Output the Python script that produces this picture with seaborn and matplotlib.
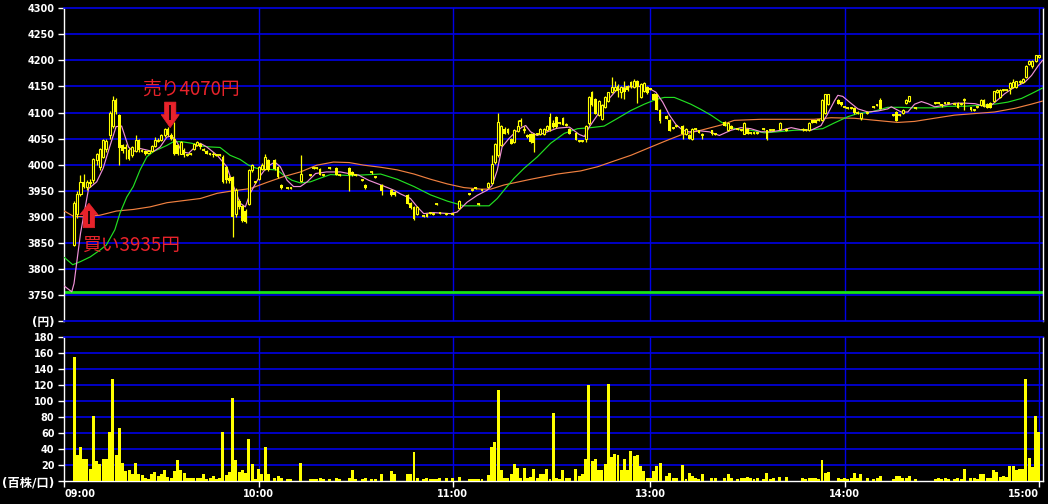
import numpy as np
import pandas as pd
import matplotlib
matplotlib.use("Agg")
import matplotlib.pyplot as plt
from matplotlib.patches import Polygon
import seaborn as sns

# minute index counted from 09:00 (lunch break removed: 11:30 = 150, 12:30 = 151, 15:00 = 301)
bar_minute = [
    3, 4, 5, 6, 7, 8, 9, 10, 11, 12,
    13, 14, 15, 16, 17, 18, 19, 20, 21, 22,
    23, 24, 25, 26, 27, 28, 29, 30, 31, 32,
    33, 34, 35, 36, 37, 38, 39, 40, 41, 42,
    43, 44, 45, 46, 47, 48, 49, 50, 51, 52,
    53, 54, 55, 56, 57, 58, 59, 60, 61, 62,
    63, 65, 66, 67, 69, 70, 73, 76, 77, 78,
    79, 80, 82, 84, 85, 88, 89, 90, 92, 93,
    95, 96, 98, 101, 102, 106, 107, 108, 109, 111,
    112, 113, 114, 115, 116, 118, 120, 122, 125, 126,
    127, 128, 129, 131, 132, 133, 134, 135, 136, 137,
    138, 139, 140, 141, 142, 143, 144, 145, 146, 147,
    148, 149, 150, 151, 152, 153, 154, 155, 156, 158,
    159, 160, 161, 162, 163, 164, 165, 166, 167, 168,
    169, 170, 171, 172, 173, 174, 175, 176, 177, 178,
    179, 180, 181, 182, 183, 184, 186, 187, 188, 189,
    191, 192, 193, 194, 195, 196, 197, 200, 201, 204,
    205, 206, 208, 209, 210, 211, 212, 213, 214, 216,
    217, 218, 219, 221, 223, 228, 229, 230, 231, 232,
    233, 234, 235, 236, 239, 240, 241, 242, 243, 244,
    245, 246, 248, 250, 251, 252, 256, 257, 258, 259,
    260, 261, 263, 269, 270, 271, 272, 273, 275, 276,
    277, 278, 280, 281, 282, 283, 284, 285, 286, 287,
    288, 289, 290, 291, 292, 293, 294, 295, 296, 297,
    298, 299, 300, 301,
]
bar_open = [
    3845, 3905, 3944, 3967, 3958, 3966, 3970, 4008, 3995, 4015,
    4030, 4056, 4075, 4125, 4095, 4037, 4033, 4029, 4018, 4027,
    4047, 4027, 4026, 4023, 4027, 4035, 4045, 4047, 4056, 4069,
    4056, 4050, 4037, 4021, 4029, 4018, 4020, 4030, 4038, 4040,
    4029, 4027, 4020, 4020, 4018, 4018, 4015, 3995, 3975, 3976,
    3906, 3931, 3920, 3912, 3925, 3989, 3967, 3973, 3992, 3992,
    4008, 4008, 3995, 3960, 3956, 3956, 3969, 3981, 3994, 3994,
    3991, 3981, 3994, 3994, 3981, 3994, 3985, 3980, 3970, 3960,
    3985, 3976, 3960, 3951, 3948, 3941, 3926, 3919, 3906, 3901,
    3906, 3907, 3906, 3925, 3909, 3906, 3906, 3916, 3944, 3951,
    3957, 3925, 3951, 3957, 3965, 4005, 4018, 4037, 4069, 4069,
    4050, 4043, 4065, 4084, 4067, 4056, 4059, 4059, 4058, 4058,
    4059, 4066, 4091, 4079, 4091, 4080, 4090, 4077, 4069, 4061,
    4045, 4046, 4050, 4079, 4139, 4126, 4095, 4088, 4110, 4123,
    4139, 4143, 4150, 4139, 4148, 4150, 4158, 4149, 4160, 4130,
    4142, 4149, 4146, 4136, 4135, 4105, 4094, 4085, 4070, 4075,
    4075, 4058, 4056, 4050, 4069, 4066, 4056, 4066, 4058, 4082,
    4066, 4075, 4069, 4066, 4059, 4069, 4061, 4061, 4061, 4069,
    4066, 4066, 4066, 4068, 4069, 4069, 4066, 4066, 4085, 4085,
    4085, 4085, 4099, 4117, 4125, 4120, 4110, 4109, 4109, 4109,
    4100, 4090, 4100, 4110, 4115, 4125, 4095, 4101, 4095, 4099,
    4118, 4123, 4109, 4119, 4119, 4116, 4119, 4119, 4117, 4119,
    4117, 4125, 4110, 4105, 4110, 4114, 4125, 4117, 4119, 4123,
    4139, 4130, 4144, 4144, 4147, 4149, 4149, 4158, 4158, 4168,
    4194, 4190, 4199, 4207,
]
bar_high = [
    3930, 3950, 3980, 3982, 3970, 3972, 4012, 4022, 4032, 4050,
    4050, 4103, 4131, 4128, 4098, 4040, 4040, 4032, 4036, 4056,
    4050, 4030, 4028, 4028, 4038, 4053, 4052, 4058, 4070, 4072,
    4060, 4082, 4040, 4045, 4032, 4020, 4022, 4042, 4045, 4042,
    4031, 4029, 4022, 4025, 4020, 4020, 4018, 3998, 3980, 3978,
    3955, 3935, 3922, 3915, 3992, 4002, 3969, 3998, 4003, 4020,
    4011, 4010, 3998, 3962, 3958, 3958, 4019, 3983, 3996, 3996,
    3993, 3983, 3996, 3996, 3983, 3996, 3987, 3982, 3972, 3962,
    3987, 3978, 3962, 3953, 3950, 3943, 3928, 3920, 3920, 3903,
    3907, 3909, 3908, 3927, 3910, 3908, 3908, 3933, 3946, 3953,
    3958, 3927, 3953, 3966, 4018, 4042, 4100, 4077, 4072, 4070,
    4052, 4068, 4086, 4090, 4075, 4058, 4061, 4060, 4060, 4070,
    4070, 4076, 4100, 4085, 4093, 4082, 4092, 4079, 4070, 4063,
    4047, 4048, 4076, 4131, 4141, 4128, 4125, 4116, 4132, 4140,
    4169, 4160, 4155, 4151, 4160, 4153, 4160, 4165, 4162, 4157,
    4158, 4150, 4148, 4138, 4136, 4107, 4096, 4087, 4072, 4077,
    4077, 4070, 4058, 4070, 4071, 4067, 4061, 4067, 4060, 4083,
    4081, 4076, 4071, 4068, 4081, 4070, 4063, 4063, 4063, 4071,
    4067, 4068, 4068, 4081, 4070, 4070, 4068, 4081, 4086, 4086,
    4087, 4126, 4136, 4136, 4126, 4121, 4112, 4111, 4111, 4110,
    4102, 4100, 4102, 4112, 4117, 4127, 4097, 4102, 4097, 4106,
    4126, 4132, 4111, 4121, 4121, 4117, 4121, 4121, 4119, 4120,
    4119, 4127, 4111, 4107, 4112, 4126, 4126, 4118, 4120, 4142,
    4145, 4145, 4146, 4146, 4158, 4165, 4161, 4162, 4166, 4191,
    4200, 4200, 4211, 4211,
]
bar_low = [
    3843, 3898, 3940, 3955, 3952, 3958, 3965, 4000, 3990, 4012,
    4025, 4050, 4070, 4098, 4000, 4022, 4011, 4008, 4015, 4025,
    4025, 4025, 4018, 4020, 4025, 4033, 4043, 4045, 4054, 4055,
    4048, 4018, 4018, 4020, 4015, 4016, 4018, 4028, 4035, 4030,
    4027, 4020, 4018, 4015, 4016, 4016, 3965, 3965, 3965, 3861,
    3900, 3915, 3890, 3888, 3922, 3985, 3965, 3970, 3990, 3990,
    3987, 3990, 3974, 3954, 3954, 3954, 3967, 3979, 3992, 3992,
    3980, 3979, 3992, 3980, 3979, 3950, 3978, 3978, 3968, 3954,
    3983, 3974, 3941, 3940, 3940, 3924, 3915, 3893, 3904, 3899,
    3899, 3905, 3904, 3923, 3905, 3904, 3904, 3914, 3942, 3949,
    3953, 3923, 3949, 3955, 3962, 4002, 4015, 4035, 4058, 4058,
    4039, 4041, 4062, 4075, 4060, 4052, 4042, 4024, 4056, 4056,
    4057, 4064, 4065, 4070, 4070, 4078, 4076, 4075, 4058, 4047,
    4043, 4044, 4043, 4077, 4112, 4097, 4093, 4086, 4108, 4121,
    4137, 4141, 4130, 4127, 4126, 4142, 4147, 4147, 4118, 4128,
    4140, 4136, 4144, 4124, 4104, 4080, 4087, 4064, 4068, 4073,
    4050, 4056, 4049, 4048, 4067, 4060, 4049, 4057, 4056, 4074,
    4064, 4068, 4067, 4064, 4058, 4058, 4059, 4059, 4059, 4067,
    4048, 4064, 4064, 4066, 4064, 4065, 4064, 4064, 4079, 4079,
    4083, 4083, 4097, 4115, 4116, 4113, 4108, 4107, 4107, 4098,
    4098, 4085, 4098, 4108, 4113, 4106, 4093, 4083, 4093, 4098,
    4117, 4121, 4107, 4117, 4117, 4111, 4117, 4117, 4115, 4108,
    4115, 4104, 4103, 4103, 4108, 4112, 4110, 4108, 4108, 4121,
    4137, 4128, 4142, 4142, 4136, 4147, 4147, 4155, 4156, 4166,
    4192, 4186, 4197, 4205,
]
bar_close = [
    3926, 3944, 3967, 3958, 3966, 3962, 4010, 4020, 4030, 4047,
    4045, 4100, 4125, 4101, 4031, 4027, 4030, 4011, 4034, 4047,
    4028, 4027, 4021, 4027, 4035, 4048, 4048, 4056, 4069, 4056,
    4050, 4020, 4020, 4043, 4018, 4018, 4020, 4040, 4043, 4034,
    4029, 4021, 4020, 4018, 4018, 4018, 3967, 3970, 3968, 3900,
    3951, 3919, 3892, 3890, 3989, 3999, 3967, 3995, 4000, 4015,
    3990, 3992, 3976, 3955, 3956, 3956, 3982, 3981, 3994, 3994,
    3981, 3981, 3994, 3981, 3981, 3981, 3980, 3980, 3970, 3955,
    3985, 3976, 3950, 3941, 3942, 3925, 3916, 3895, 3919, 3901,
    3900, 3907, 3906, 3925, 3906, 3906, 3906, 3931, 3944, 3951,
    3954, 3925, 3951, 3965, 4001, 4040, 4082, 4075, 4059, 4060,
    4040, 4066, 4075, 4084, 4067, 4053, 4043, 4042, 4058, 4069,
    4069, 4075, 4067, 4072, 4072, 4080, 4077, 4077, 4059, 4048,
    4045, 4046, 4075, 4130, 4114, 4098, 4123, 4114, 4130, 4139,
    4149, 4149, 4142, 4149, 4139, 4144, 4149, 4160, 4149, 4155,
    4157, 4137, 4146, 4125, 4105, 4083, 4088, 4065, 4070, 4075,
    4058, 4069, 4050, 4069, 4069, 4061, 4056, 4058, 4058, 4075,
    4080, 4069, 4069, 4066, 4080, 4059, 4061, 4061, 4061, 4069,
    4049, 4066, 4066, 4080, 4065, 4066, 4066, 4080, 4080, 4080,
    4085, 4125, 4135, 4135, 4117, 4114, 4110, 4109, 4109, 4099,
    4100, 4099, 4100, 4110, 4115, 4107, 4095, 4084, 4095, 4105,
    4125, 4131, 4109, 4119, 4119, 4112, 4119, 4119, 4117, 4109,
    4117, 4125, 4104, 4105, 4110, 4125, 4111, 4109, 4109, 4141,
    4144, 4144, 4144, 4144, 4157, 4159, 4160, 4160, 4165, 4190,
    4199, 4199, 4210, 4210,
]

# volume (hundreds of shares) for every minute 0..301
volume = [
    0, 0, 0, 155, 33, 42, 28, 28, 15, 81,
    25, 21, 28, 28, 61, 128, 33, 66, 23, 13,
    14, 9, 23, 9, 7, 4, 3, 9, 11, 6,
    9, 14, 5, 4, 13, 26, 14, 10, 4, 4,
    4, 4, 4, 9, 3, 4, 6, 3, 4, 61,
    7, 11, 104, 26, 11, 14, 10, 53, 21, 3,
    15, 9, 43, 9, 0, 4, 6, 4, 0, 3,
    3, 0, 0, 23, 0, 0, 3, 3, 3, 4,
    3, 0, 3, 0, 4, 3, 0, 0, 4, 14,
    3, 0, 3, 4, 0, 3, 3, 0, 9, 0,
    0, 13, 9, 0, 0, 0, 9, 9, 36, 4,
    0, 3, 4, 3, 3, 3, 4, 0, 4, 0,
    4, 0, 5, 0, 0, 3, 3, 3, 3, 3,
    0, 7, 43, 49, 114, 14, 4, 4, 9, 21,
    16, 4, 16, 4, 5, 15, 4, 9, 9, 15,
    3, 85, 4, 3, 14, 4, 4, 0, 15, 6,
    9, 28, 120, 25, 28, 14, 14, 21, 122, 30,
    34, 33, 14, 28, 14, 38, 31, 33, 19, 13,
    4, 4, 13, 19, 23, 0, 6, 10, 4, 4,
    0, 20, 3, 10, 6, 4, 3, 9, 0, 0,
    4, 4, 0, 0, 4, 9, 4, 0, 3, 4,
    4, 5, 4, 3, 4, 0, 3, 10, 3, 4,
    0, 5, 0, 5, 0, 0, 0, 0, 4, 3,
    4, 4, 4, 3, 26, 10, 11, 0, 0, 4,
    3, 4, 3, 4, 10, 4, 9, 0, 4, 0,
    3, 4, 6, 0, 0, 0, 3, 6, 6, 4,
    4, 6, 0, 3, 0, 0, 0, 0, 0, 3,
    4, 3, 4, 3, 0, 3, 4, 3, 15, 0,
    4, 4, 3, 9, 9, 4, 4, 14, 11, 5,
    6, 5, 19, 19, 14, 15, 15, 128, 29, 18,
    81, 61,
]

# moving averages (short / middle / long)
ma_short_x = [0, 2.3, 3, 5, 7.5, 10, 12, 14, 16, 17.7, 19.8, 21.3, 23.4, 25.5, 27.5, 29.6, 31.7, 33.2,
              34.7, 36.3, 38.4, 40.4, 42, 44, 47.2, 50.2, 52.3, 54.3, 55.9, 57.4, 60, 62.6, 65, 66.7,
              68.8, 70.8, 72.9, 75, 77.6, 81, 85.3, 87.8, 90.9, 94, 98.2, 101.8, 103.8, 106.9, 109,
              111, 114, 119.3, 121.3, 124.4, 127.5, 130.6, 132.1, 133.7, 135.2, 137.3, 139.4, 141.4,
              142.5, 144, 146, 149.2, 152.2, 156, 159, 160.6, 162.1, 164.2, 167.3, 170.4, 173.4,
              177.6, 180.7, 182.7, 184.8, 186.9, 188.9, 191, 193, 196.1, 199.2, 202.3, 205.9, 209,
              212, 215.2, 218.3, 221.4, 224.5, 227.5, 230.6, 233.7, 235.8, 237.9, 238.9, 240.4,
              242.5, 245.1, 248.2, 251.3, 254.3, 255.4, 258.5, 260.5, 262.6, 264.7, 266.7, 268.8,
              271.9, 275, 278.1, 281.2, 284.3, 286.3, 288.4, 290.4, 293.5, 296.6, 298.7, 300.8, 302.1]
ma_short_y = [3767, 3756, 3772, 3868, 3954, 3967, 3993, 4034, 4073, 4074, 4034, 4025, 4031, 4028, 4025,
              4034, 4053, 4055, 4044, 4025, 4022, 4034, 4041, 4034, 4018, 3996, 3958, 3926, 3919, 3945,
              3974, 3996, 4005, 3996, 3970, 3958, 3958, 3967, 3983, 3986, 3986, 3983, 3980, 3970, 3960,
              3951, 3944, 3935, 3919, 3906, 3908, 3906, 3909, 3928, 3941, 3951, 3960, 3989, 4034, 4050,
              4063, 4072, 4075, 4063, 4056, 4063, 4070, 4072, 4058, 4054, 4072, 4091, 4120, 4142, 4149,
              4150, 4146, 4139, 4120, 4095, 4077, 4066, 4063, 4065, 4063, 4056, 4066, 4071, 4069, 4063,
              4063, 4066, 4071, 4067, 4066, 4075, 4098, 4123, 4133, 4131, 4120, 4107, 4101, 4103, 4107,
              4111, 4101, 4101, 4116, 4121, 4117, 4111, 4114, 4118, 4118, 4117, 4112, 4114, 4125, 4136,
              4149, 4158, 4171, 4190, 4200]
ma_mid_x = [0, 2.6, 5, 8, 11, 13, 15.6, 17.2, 19.3, 21.3, 23.4, 25.5, 27.5, 29.6, 31.7, 33.7, 36.3,
            39.4, 42, 45, 48.1, 51.2, 54.3, 56.9, 59.4, 62.6, 65.7, 67.7, 70.3, 72.9, 76, 79, 82.2,
            88.4, 97.7, 102.8, 108, 113.1, 118.3, 123.4, 127.6, 131.2, 133.7, 135.8, 138.9, 142,
            146.1, 150.2, 154.4, 158.5, 162.6, 166.7, 170.9, 175, 179.1, 182.7, 185.3, 188.4, 190.4,
            193.5, 196.6, 199.7, 202.8, 205.9, 209, 212, 216.2, 220.3, 225.5, 230.6, 234.2, 237.8,
            242, 245, 249.2, 254.3, 258.4, 262.6, 268.7, 272.9, 278, 283.2, 287.3, 291.4, 295.6,
            298.6, 302.1]
ma_mid_y = [3822, 3808, 3814, 3823, 3836, 3846, 3875, 3907, 3938, 3958, 3990, 4015, 4025, 4031, 4037,
            4044, 4044, 4041, 4036, 4034, 4033, 4018, 4010, 3999, 3993, 3991, 3990, 3980, 3970, 3965,
            3967, 3974, 3981, 3979, 3982, 3972, 3958, 3942, 3930, 3921, 3921, 3921, 3935, 3951, 3974,
            3993, 4015, 4041, 4060, 4069, 4071, 4074, 4089, 4104, 4116, 4125, 4129, 4129, 4124, 4116,
            4106, 4095, 4082, 4071, 4067, 4066, 4061, 4063, 4066, 4067, 4069, 4080, 4092, 4098, 4101,
            4110, 4110, 4109, 4109, 4112, 4112, 4114, 4116, 4120, 4127, 4136, 4147]
ma_long_x = [0, 2.8, 5.9, 11, 16.1, 21.3, 26.5, 31.7, 36.8, 42, 47.2, 52.3, 57.4, 62.6, 67.7, 72.9,
             78, 83.1, 88, 92.5, 97.7, 102.8, 108, 113.1, 118.3, 123.4, 128.6, 131.7, 135.8, 144.1,
             152.3, 159.5, 164.7, 169.8, 175, 181.2, 186.3, 190.4, 196.6, 202.8, 206.9, 215.1, 223.4,
             231.6, 236.8, 244, 252.3, 257.4, 262.6, 268.7, 274.9, 281.1, 287.3, 293.5, 298.6, 302.1]
ma_long_y = [3911, 3901, 3900, 3903, 3911, 3914, 3919, 3927, 3931, 3935, 3945, 3950, 3954, 3966, 3977,
             3986, 3999, 4005, 4004, 3999, 3995, 3990, 3982, 3972, 3963, 3956, 3953, 3953, 3961, 3972,
             3982, 3988, 3996, 4007, 4018, 4034, 4047, 4057, 4066, 4076, 4085, 4087, 4087, 4087, 4090,
             4089, 4084, 4081, 4083, 4089, 4095, 4098, 4101, 4108, 4116, 4122]

base_line = 3756
time_ticks = [0, 60, 120, 181, 241, 301]
time_labels = ["09:00", "10:00", "11:00", "13:00", "14:00", "15:00"]
price_ticks = list(range(3700, 4301, 50))
vol_ticks = list(range(0, 181, 20))
buy_text, sell_text = "買い3935円", "売り4070円"

BLUE = "#0000e6"
YEL = "#ffff00"
RED = "#e8232b"

sns.set_style("dark", {"axes.facecolor": "black", "figure.facecolor": "black"})
plt.rcParams["font.family"] = ["DejaVu Sans", "Noto Sans CJK JP"]

W, H = 1048, 504
fig = plt.figure(figsize=(W / 100, H / 100), dpi=100, facecolor="black")


def px_box(left, top, right, bottom):
    return [left / W, 1 - bottom / H, (right - left) / W, (bottom - top) / H]


ax = fig.add_axes(px_box(63.5, 8.3, 1042.5, 321))
axv = fig.add_axes(px_box(63.5, 337.3, 1042.5, 481))

for a in (ax, axv):
    a.set_facecolor("black")
    a.grid(False)
    for t in time_ticks[1:]:
        a.axvline(t, color=BLUE, lw=1.0, zorder=1)
    for side in ("left", "right"):
        a.spines[side].set_color("white")
        a.spines[side].set_linewidth(1.0)

# ---- price panel ----
for p in price_ticks[1:-1]:
    ax.axhline(p, color=BLUE, lw=1.2, zorder=1)
ax.axhline(base_line, color="#18e018", lw=2.0, zorder=2)
ax.spines["top"].set_color(BLUE)
ax.spines["top"].set_linewidth(1.2)
ax.spines["bottom"].set_color(BLUE)
ax.spines["bottom"].set_linewidth(1.2)

sns.lineplot(x=ma_long_x, y=ma_long_y, color="#f08040", lw=0.85, ax=ax, zorder=3)
sns.lineplot(x=ma_mid_x, y=ma_mid_y, color="#22e022", lw=0.85, ax=ax, zorder=3)
sns.lineplot(x=ma_short_x, y=ma_short_y, color="#f090d8", lw=0.85, ax=ax, zorder=3)

df = pd.DataFrame({"minute": bar_minute, "open": bar_open, "high": bar_high,
                   "low": bar_low, "close": bar_close})
up = df["close"] > df["open"]
down = df["close"] < df["open"]
flat = df["close"] == df["open"]
ax.vlines(df["minute"], df["low"], df["high"], color=YEL, lw=0.9, zorder=4)
ax.bar(df["minute"][up], (df["close"] - df["open"])[up], bottom=df["open"][up], width=0.62,
       facecolor="black", edgecolor=YEL, linewidth=0.8, zorder=5)
ax.bar(df["minute"][down], (df["open"] - df["close"])[down], bottom=df["close"][down], width=0.85,
       color=YEL, linewidth=0, zorder=5)
ax.hlines(df["close"][flat], df["minute"][flat] - 0.45, df["minute"][flat] + 0.45,
          color=YEL, lw=1.3, zorder=5)


# buy / sell arrows
def arrow(cx, tail, base, tip):
    pts = [(cx, tip), (cx + 2.8, base), (cx + 1.75, base), (cx + 1.75, tail),
           (cx - 1.75, tail), (cx - 1.75, base), (cx - 2.8, base)]
    ax.add_patch(Polygon(pts, closed=True, facecolor=RED, edgecolor=RED, lw=0.5, zorder=7))


arrow(7.6, 3879, 3904, 3926)
ax.plot([7.6, 7.6], [3886, 3912], color="black", lw=1.2, zorder=8, solid_capstyle="butt")
arrow(32.7, 4120, 4096, 4071)
ax.plot([32.7, 32.7], [4114, 4086], color="black", lw=1.2, zorder=8, solid_capstyle="butt")

ax.text(24.0, 4144, sell_text, color=RED, fontsize=13.5, family=["Noto Sans CJK JP"],
        ha="left", va="center", zorder=8)
ax.text(5.6, 3846, buy_text, color=RED, fontsize=13.5, family=["Noto Sans CJK JP"],
        ha="left", va="center", zorder=8)

ax.set_xlim(-0.25, 302.1)
ax.set_ylim(3700, 4300)
ax.set_xticks([])
ax.set_yticks(price_ticks)
ax.set_yticklabels(["(円)"] + [str(p) for p in price_ticks[1:]])
ax.tick_params(axis="y", colors="white", length=4.5, width=1, pad=2, labelsize=7.0, left=True)
for lbl in ax.get_yticklabels():
    lbl.set_fontweight("bold")
ax.get_yticklabels()[0].set_fontsize(8.5)
ax.set_xlabel("")
ax.set_ylabel("")

# ---- volume panel ----
for v in vol_ticks[1:-1]:
    axv.axhline(v, color=BLUE, lw=1.2, zorder=1)
axv.spines["top"].set_color(BLUE)
axv.spines["top"].set_linewidth(1.2)
axv.spines["bottom"].set_color("white")
axv.spines["bottom"].set_linewidth(1.0)

vol_df = pd.DataFrame({"minute": np.arange(len(volume)), "volume": volume})
sns.barplot(data=vol_df, x="minute", y="volume", native_scale=True, color=YEL, saturation=1,
            width=0.92, errorbar=None, linewidth=0, ax=axv, zorder=3)

axv.set_xlim(-0.25, 302.1)
axv.set_ylim(0, 180)
axv.set_yticks(vol_ticks)
axv.set_yticklabels(["(百株/口)"] + [str(v) for v in vol_ticks[1:]])
axv.set_xticks(time_ticks)
axv.set_xticklabels(time_labels)
axv.tick_params(axis="both", colors="white", length=4.5, width=1, labelsize=7.0,
                left=True, bottom=True)
axv.tick_params(axis="y", pad=2)
axv.tick_params(axis="x", pad=1.5)
for lbl in axv.get_yticklabels() + axv.get_xticklabels():
    lbl.set_fontweight("bold")
axv.get_yticklabels()[0].set_fontsize(8.8)
xl = axv.get_xticklabels()
xl[0].set_ha("left")
xl[-1].set_ha("right")
axv.set_xlabel("")
axv.set_ylabel("")

fig.savefig("out.png", dpi=100, facecolor="black")
